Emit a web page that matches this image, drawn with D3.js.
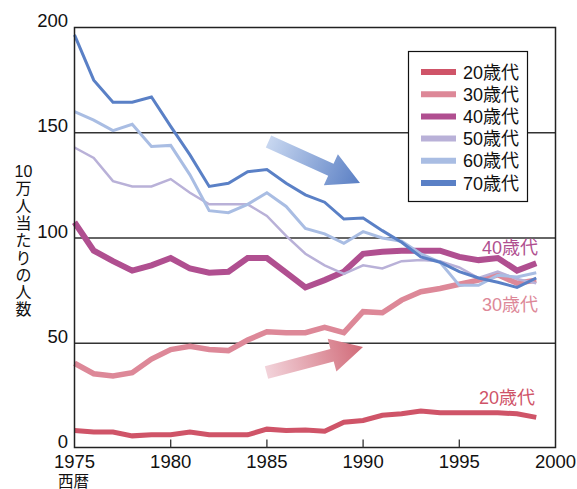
<!DOCTYPE html>
<html>
<head>
<meta charset="utf-8">
<script src="https://cdn.jsdelivr.net/npm/d3@7/dist/d3.min.js"></script>
<style>
html,body{margin:0;padding:0;background:#fff;}
svg{display:block;}
text{font-family:"Liberation Sans","Noto Sans CJK JP",Arial,sans-serif;}
</style>
</head>
<body>
<svg id="chart" width="577" height="489"></svg>
<script>
const years = d3.range(1975, 2000);
const seriesNames = ["20歳代","30歳代","40歳代","50歳代","60歳代","70歳代"];
const v20 = [8.5,7.8,7.8,6.0,6.5,6.5,7.8,6.5,6.5,6.5,9.2,8.6,8.8,8.2,12.5,13.3,15.8,16.5,17.8,17.0,17.0,17.0,17.0,16.5,14.8];
const v30 = [40.5,35.5,34.5,36.0,42.5,47.0,48.5,47.0,46.5,51.5,55.5,55.0,55.0,57.5,55.0,65.0,64.5,70.5,74.5,76.0,78.0,80.0,82.5,78.5,80.0];
const v40 = [107.5,94.0,89.0,84.5,87.0,90.5,85.5,83.5,84.0,90.5,90.5,83.5,76.5,80.0,84.0,92.5,93.5,94.0,94.0,94.0,91.0,89.5,90.5,84.5,88.0];
const v50 = [143.0,138.0,127.0,124.5,124.5,128.0,121.5,116.0,116.0,116.0,110.5,101.0,92.5,87.0,83.0,87.0,85.5,89.0,89.5,89.0,86.0,81.0,84.0,80.5,78.5];
const v60 = [160.0,156.0,151.0,154.0,143.5,144.0,130.0,113.0,112.0,116.0,121.5,115.0,104.5,102.0,97.5,103.0,100.0,98.5,92.5,88.5,77.5,77.5,82.3,81.5,83.5];
const v70 = [196.5,175.0,164.5,164.5,167.0,153.0,139.5,124.5,126.0,131.5,132.5,126.0,120.5,117.0,109.0,109.5,103.5,98.0,91.0,88.5,84.0,81.0,79.0,76.5,81.0];
const seriesValues = [v20,v30,v40,v50,v60,v70];
const yTicks = [0,50,100,150,200];
const xTicks = [1975,1980,1985,1990,1995,2000];
const yTitle = ["10","万","人","当","た","り","の","人","数"];
const xTitle = "西暦";

const colors = ["#cf5468","#dd8898","#b04f90","#b9b1d8","#a9bde3","#5a80c6"];
const widths = [5,5.5,6,2.5,3,3];

const svg = d3.select("#chart");
const L = 74.5, R = 555.5, T = 27.5, B = 447.5;
const x = d3.scaleLinear().domain([1975,2000]).range([L,R]);
const y = d3.scaleLinear().domain([0,200]).range([448.5,T]);

// gridlines
svg.append("g").selectAll("line").data([50,100,150]).join("line")
  .attr("x1",L).attr("x2",R).attr("y1",d=>y(d)).attr("y2",d=>y(d))
  .attr("stroke","#333").attr("stroke-width",1.3);

// lines
const line = d3.line().x((d,i)=>x(years[i])).y(d=>y(d)).curve(d3.curveLinear);
const order = [0,1,2,3,4,5];
svg.append("g").selectAll("path").data(order).join("path")
  .attr("d",i=>line(seriesValues[i]))
  .attr("fill","none")
  .attr("stroke",i=>colors[i])
  .attr("stroke-width",i=>widths[i])
  .attr("stroke-linejoin","miter")
  .attr("stroke-linecap","butt");

// frame
svg.append("rect").attr("x",L).attr("y",T).attr("width",R-L).attr("height",B-T)
  .attr("fill","none").attr("stroke","#222").attr("stroke-width",1.5);

// bottom ticks (inward)
svg.append("g").selectAll("line").data([1980,1985,1990,1995]).join("line")
  .attr("x1",d=>x(d)).attr("x2",d=>x(d)).attr("y1",B).attr("y2",B-8)
  .attr("stroke","#333").attr("stroke-width",1.3);

// y tick labels
svg.append("g").selectAll("text").data(yTicks).join("text")
  .attr("x",68).attr("y",d=>y(d)-0.5).attr("text-anchor","end")
  .attr("font-size",18.5).attr("fill","#111").text(d=>d);

// x tick labels
svg.append("g").selectAll("text").data(xTicks).join("text")
  .attr("x",d=>x(d)).attr("y",468).attr("text-anchor","middle")
  .attr("font-size",18.5).attr("fill","#111").text(d=>d);

svg.append("text").attr("x",58).attr("y",487).attr("font-size",15.5).attr("fill","#111").text(xTitle);

// y title (vertical, upright)
svg.append("g").selectAll("text").data(yTitle).join("text")
  .attr("x",23.5).attr("y",(d,i)=>177+i*17.3).attr("text-anchor","middle")
  .attr("font-size",16).attr("fill","#111").text(d=>d);

// arrows with gradients
const defs = svg.append("defs");
function arrow(id, x0, y0, x1, y1, c0, c1){
  const g = defs.append("linearGradient").attr("id",id)
    .attr("gradientUnits","userSpaceOnUse")
    .attr("x1",x0).attr("y1",y0).attr("x2",x1).attr("y2",y1);
  g.append("stop").attr("offset","0%").attr("stop-color",c0);
  g.append("stop").attr("offset","100%").attr("stop-color",c1);
  const dx = x1-x0, dy = y1-y0, len = Math.hypot(dx,dy);
  const ux = dx/len, uy = dy/len, px = -uy, py = ux;
  const sw = 6.5, hw = 17, hl = 32;
  const bx = x1-ux*hl, by = y1-uy*hl;
  const pts = [
    [x0+px*sw, y0+py*sw],[bx+px*sw, by+py*sw],[bx+px*hw, by+py*hw],[x1,y1],
    [bx-px*hw, by-py*hw],[bx-px*sw, by-py*sw],[x0-px*sw, y0-py*sw]
  ];
  svg.append("polygon").attr("points",pts.map(p=>p.join(",")).join(" "))
    .attr("fill",`url(#${id})`);
}
arrow("gBlue", 268.5, 141.5, 360, 183, "#c8d7f0", "#5a7fc4");
arrow("gPink", 266.5, 372.5, 363, 347, "#f2d3da", "#d16a78");

// legend
const lg = svg.append("g");
lg.append("rect").attr("x",408.5).attr("y",51.5).attr("width",119).attr("height",150)
  .attr("fill","#fff").attr("stroke","#111").attr("stroke-width",1.2);
const rows = lg.selectAll("g").data(seriesNames).join("g")
  .attr("transform",(d,i)=>`translate(0,${72+i*22.2})`);
rows.append("line").attr("x1",421).attr("x2",456).attr("y1",0).attr("y2",0)
  .attr("stroke",(d,i)=>colors[i]).attr("stroke-width",6);
rows.append("text").attr("x",463).attr("y",6.5).attr("font-size",18).attr("fill","#111").text(d=>d);

// end annotations
const ann = [
  {t:seriesNames[2], x:538, y:254, c:colors[2]},
  {t:seriesNames[1], x:538, y:311, c:colors[1]},
  {t:seriesNames[0], x:535, y:404, c:colors[0]}
];
svg.append("g").selectAll("text").data(ann).join("text")
  .attr("x",d=>d.x).attr("y",d=>d.y).attr("text-anchor","end")
  .attr("font-size",18).attr("fill",d=>d.c).text(d=>d.t);
</script>
</body>
</html>
